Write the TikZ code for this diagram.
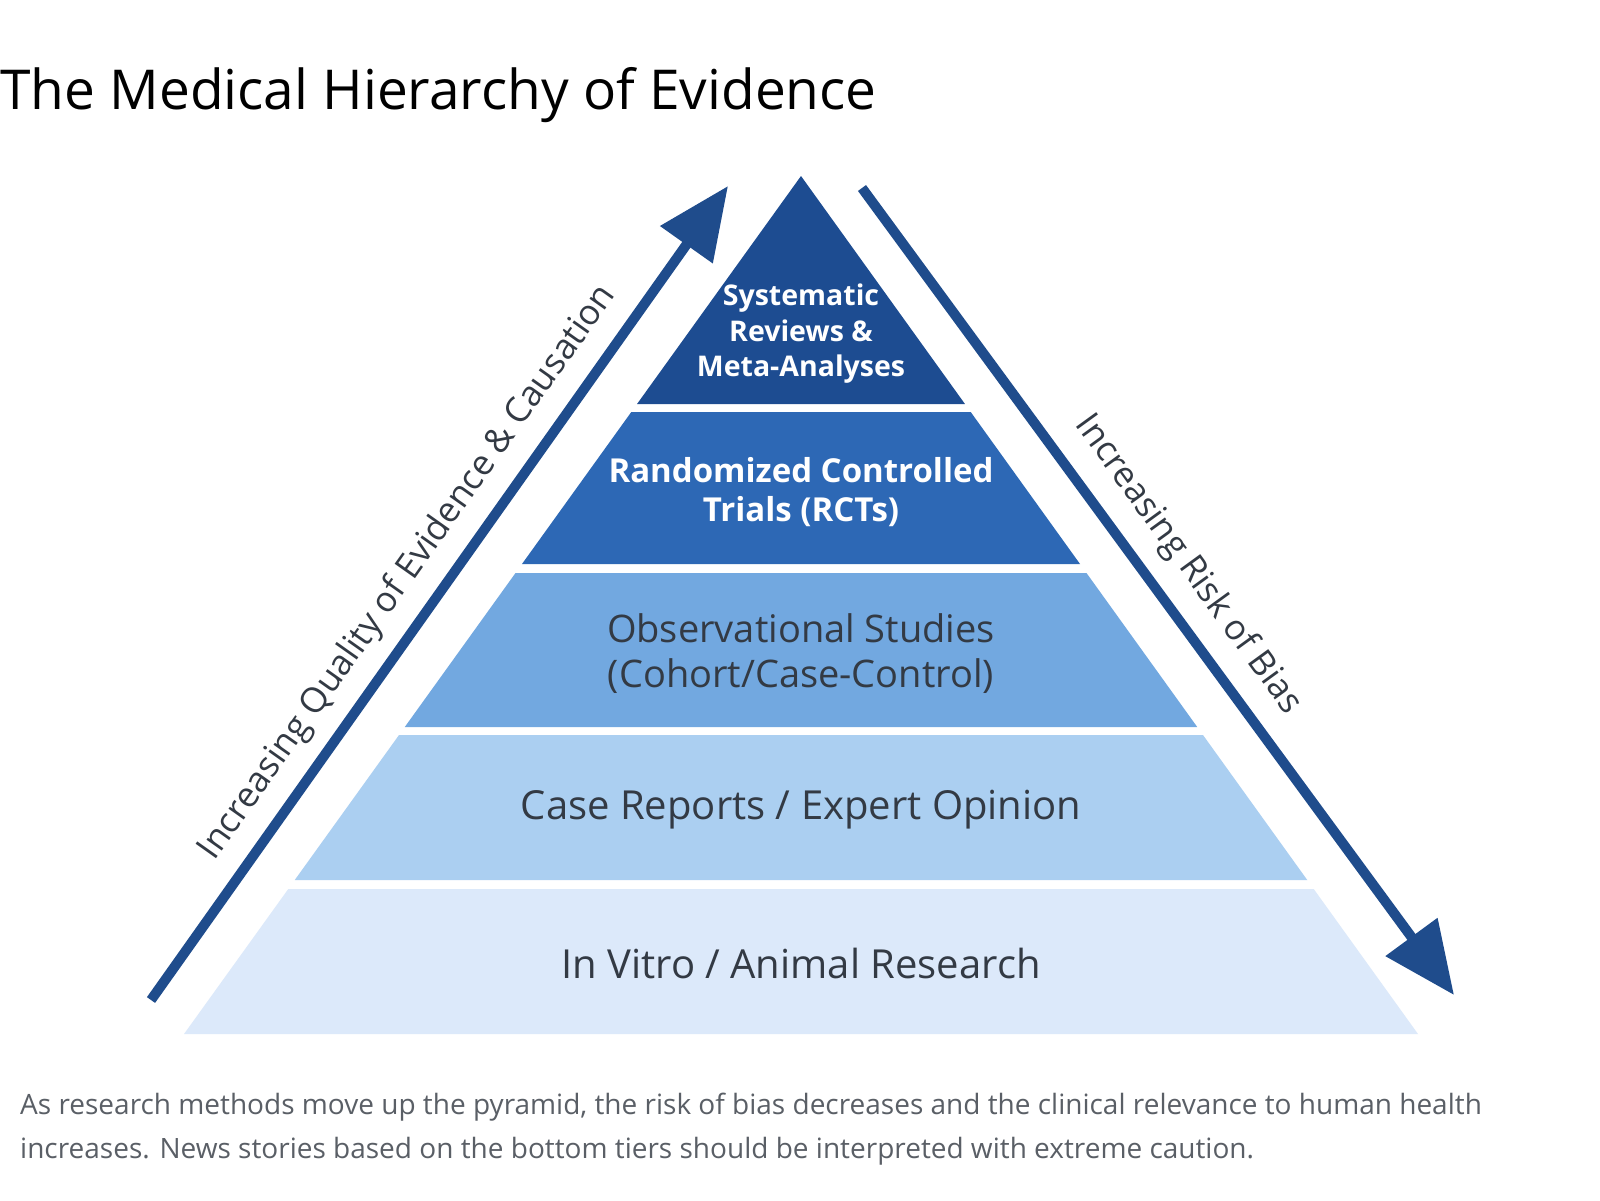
\documentclass[tikz,border=0pt]{standalone}
\usepackage{fontspec}
\setmainfont{Open Sans}
\usetikzlibrary{arrows.meta}
\definecolor{tA}{HTML}{1D4C91}
\definecolor{tB}{HTML}{2D68B5}
\definecolor{tC}{HTML}{72A8E0}
\definecolor{tD}{HTML}{ABCFF1}
\definecolor{tE}{HTML}{DCE9FA}
\definecolor{arr}{HTML}{1F4C8C}
\definecolor{dtext}{HTML}{333A44}
\definecolor{ctext}{HTML}{5A5F66}
\newcommand{\lx}[1]{801-0.7191*(#1-176)}
\newcommand{\rx}[1]{801+0.7191*(#1-176)}
\begin{document}
\begin{tikzpicture}[x=1pt,y=-1pt,
  tierlabel/.style={align=center,text=dtext},
  arrowline/.style={arr,line width=10pt,-{Triangle[length=72pt,width=62pt]}},
  sidelabel/.style={text=dtext,font=\fontsize{35}{40}\selectfont}]
\useasboundingbox (0,0) rectangle (1600,1200);
\fill[white] (0,0) rectangle (1600,1200);
\node[anchor=base west,inner sep=0,font=\fontsize{55}{60}\selectfont] (title) at (0,109) {The Medical Hierarchy of Evidence};
% tiers
\fill[tA] (801,176) -- ({\rx{404}},404) -- ({\lx{404}},404) -- cycle;
\fill[tB] ({\lx{412}},412) -- ({\rx{412}},412) -- ({\rx{564}},564) -- ({\lx{564}},564) -- cycle;
\fill[tC] ({\lx{573}},573) -- ({\rx{573}},573) -- ({\rx{727}},727) -- ({\lx{727}},727) -- cycle;
\fill[tD] ({\lx{735}},735) -- ({\rx{735}},735) -- ({\rx{880}},880) -- ({\lx{880}},880) -- cycle;
\fill[tE] ({\lx{889}},889) -- ({\rx{889}},889) -- ({\rx{1034}},1034) -- ({\lx{1034}},1034) -- cycle;
\node[tierlabel,text=white,font=\fontsize{28.5}{35.5}\selectfont\bfseries] (t1) at (801,334) {Systematic\\Reviews \&\\Meta-Analyses};
\node[tierlabel,text=white,font=\fontsize{33}{39}\selectfont\bfseries] (t2) at (801,492) {Randomized Controlled\\Trials (RCTs)};
\node[tierlabel,font=\fontsize{38}{45}\selectfont] (t3) at (801,654) {Observational Studies\\(Cohort/Case-Control)};
\node[tierlabel,font=\fontsize{40}{46}\selectfont] (t4) at (801,810) {Case Reports / Expert Opinion};
\node[tierlabel,font=\fontsize{40}{46}\selectfont] (t5) at (801,963) {In Vitro / Animal Research};
% arrows
\coordinate (la) at (151,1000);
\coordinate (lb) at (728,186);
\coordinate (ra) at (862,188);
\coordinate (rb) at (1454,995);
\draw[arrowline] (la) -- (lb);
\draw[arrowline] (ra) -- (rb);
\node[sidelabel,rotate=54.7] (ql) at (408,573) {Increasing Quality of Evidence \& Causation};
\node[sidelabel,rotate=-54] (rl) at (1188,565) {Increasing Risk of Bias};
% caption
\node[anchor=base west,inner sep=0,text=ctext,align=left,font=\fontsize{28}{44}\selectfont] (cap) at (20,1158) {As research methods move up the pyramid, the risk of bias decreases and the clinical relevance to human health\\increases. News stories based on the bottom tiers should be interpreted with extreme caution.};
\end{tikzpicture}
\end{document}
